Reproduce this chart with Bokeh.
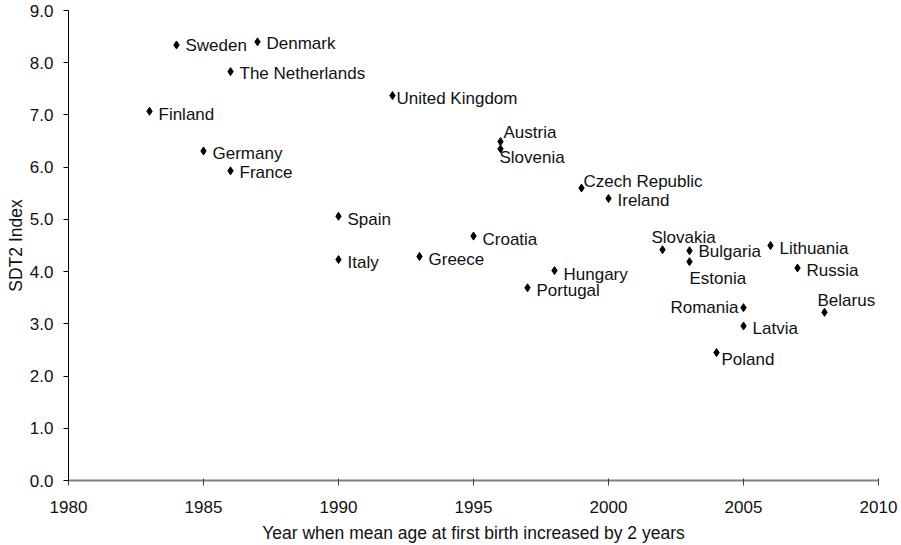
from bokeh.plotting import figure
from bokeh.models import ColumnDataSource, Range1d, FixedTicker, NumeralTickFormatter
from bokeh.core.properties import value
from bokeh.embed import file_html
from bokeh.resources import INLINE

countries = ["Sweden", "Denmark", "The Netherlands", "United Kingdom", "Finland",
             "Germany", "France", "Spain", "Italy", "Greece", "Austria", "Slovenia",
             "Czech Republic", "Ireland", "Croatia", "Slovakia", "Bulgaria", "Estonia",
             "Lithuania", "Russia", "Hungary", "Portugal", "Romania", "Latvia",
             "Belarus", "Poland"]
year = [1984, 1987, 1986, 1992, 1983, 1985, 1986, 1990, 1990, 1993, 1996, 1996,
        1999, 2000, 1995, 2002, 2003, 2003, 2006, 2007, 1998, 1997, 2005, 2005,
        2008, 2004]
sdt2 = [8.34, 8.40, 7.83, 7.37, 7.07, 6.31, 5.93, 5.06, 4.23, 4.29, 6.49, 6.35,
        5.60, 5.40, 4.68, 4.42, 4.40, 4.19, 4.50, 4.07, 4.02, 3.69, 3.31, 2.96,
        3.22, 2.45]
x_ticks = [1980, 1985, 1990, 1995, 2000, 2005, 2010]
y_ticks = [0, 1, 2, 3, 4, 5, 6, 7, 8, 9]

# label placement (screen px offsets from each point), a styling choice
label_dx = [9, 9, 9, 4, 9, 9, 9, 9, 9, 9, 3, -1, 2, 9, 9, -11, 9, 0, 9, 9, 9, 9, -5, 9, -7, 5]
label_dy = [1, 2, 2, 3, 3, 3, 2, 3, 3, 3, -9, 9, -7, 2, 3, -12, 1, 17, 3, 3, 4, 3, 0, 3, -12, 7]
label_align = ["left"] * 22 + ["right", "left", "left", "left"]

src = ColumnDataSource(dict(x=year, y=sdt2, name=countries,
                            dx=label_dx, dy=label_dy, al=label_align))

FONT = "Liberation Sans"
FS = "17px"
p = figure(width=898, height=545, output_backend="svg", toolbar_location=None,
           x_range=Range1d(1980, 2010), y_range=Range1d(0, 9),
           min_border_left=68, min_border_right=20, min_border_top=10,
           min_border_bottom=60)
p.outline_line_color = None
p.grid.visible = False
p.background_fill_color = "white"

p.scatter("x", "y", source=src, marker="diamond", size=8, color="black")
p.text("x", "y", text="name", source=src, x_offset="dx", y_offset="dy",
       text_align="al", text_baseline="middle", text_font=value(FONT),
       text_font_size=FS, text_color="#111111")

p.xaxis.ticker = FixedTicker(ticks=x_ticks)
p.yaxis.ticker = FixedTicker(ticks=y_ticks)
p.yaxis.formatter = NumeralTickFormatter(format="0.0")
p.xaxis.minor_tick_line_color = None
p.yaxis.minor_tick_line_color = None

p.xaxis.axis_line_color = "#808080"
p.xaxis.axis_line_width = 2
p.xaxis.major_tick_line_color = "#404040"
p.xaxis.major_tick_out = 5
p.xaxis.major_tick_in = 2
p.yaxis.axis_line_color = "black"
p.yaxis.major_tick_line_color = "black"
p.yaxis.major_tick_out = 5
p.yaxis.major_tick_in = 0

for ax in (p.xaxis[0], p.yaxis[0]):
    ax.major_label_text_font = FONT
    ax.major_label_text_font_size = FS
    ax.major_label_text_color = "#111111"
    ax.axis_label_text_font = FONT
    ax.axis_label_text_font_size = "17.5px"
    ax.axis_label_text_font_style = "normal"
    ax.axis_label_text_color = "#111111"

p.xaxis.axis_label = "Year when mean age at first birth increased by 2 years"
p.yaxis.axis_label = "SDT2 Index"
p.xaxis.major_label_standoff = 15
p.xaxis.axis_label_standoff = 7
p.yaxis.major_label_standoff = 10
p.yaxis.axis_label_standoff = 1

open("out.html", "w").write(file_html(p, INLINE))
